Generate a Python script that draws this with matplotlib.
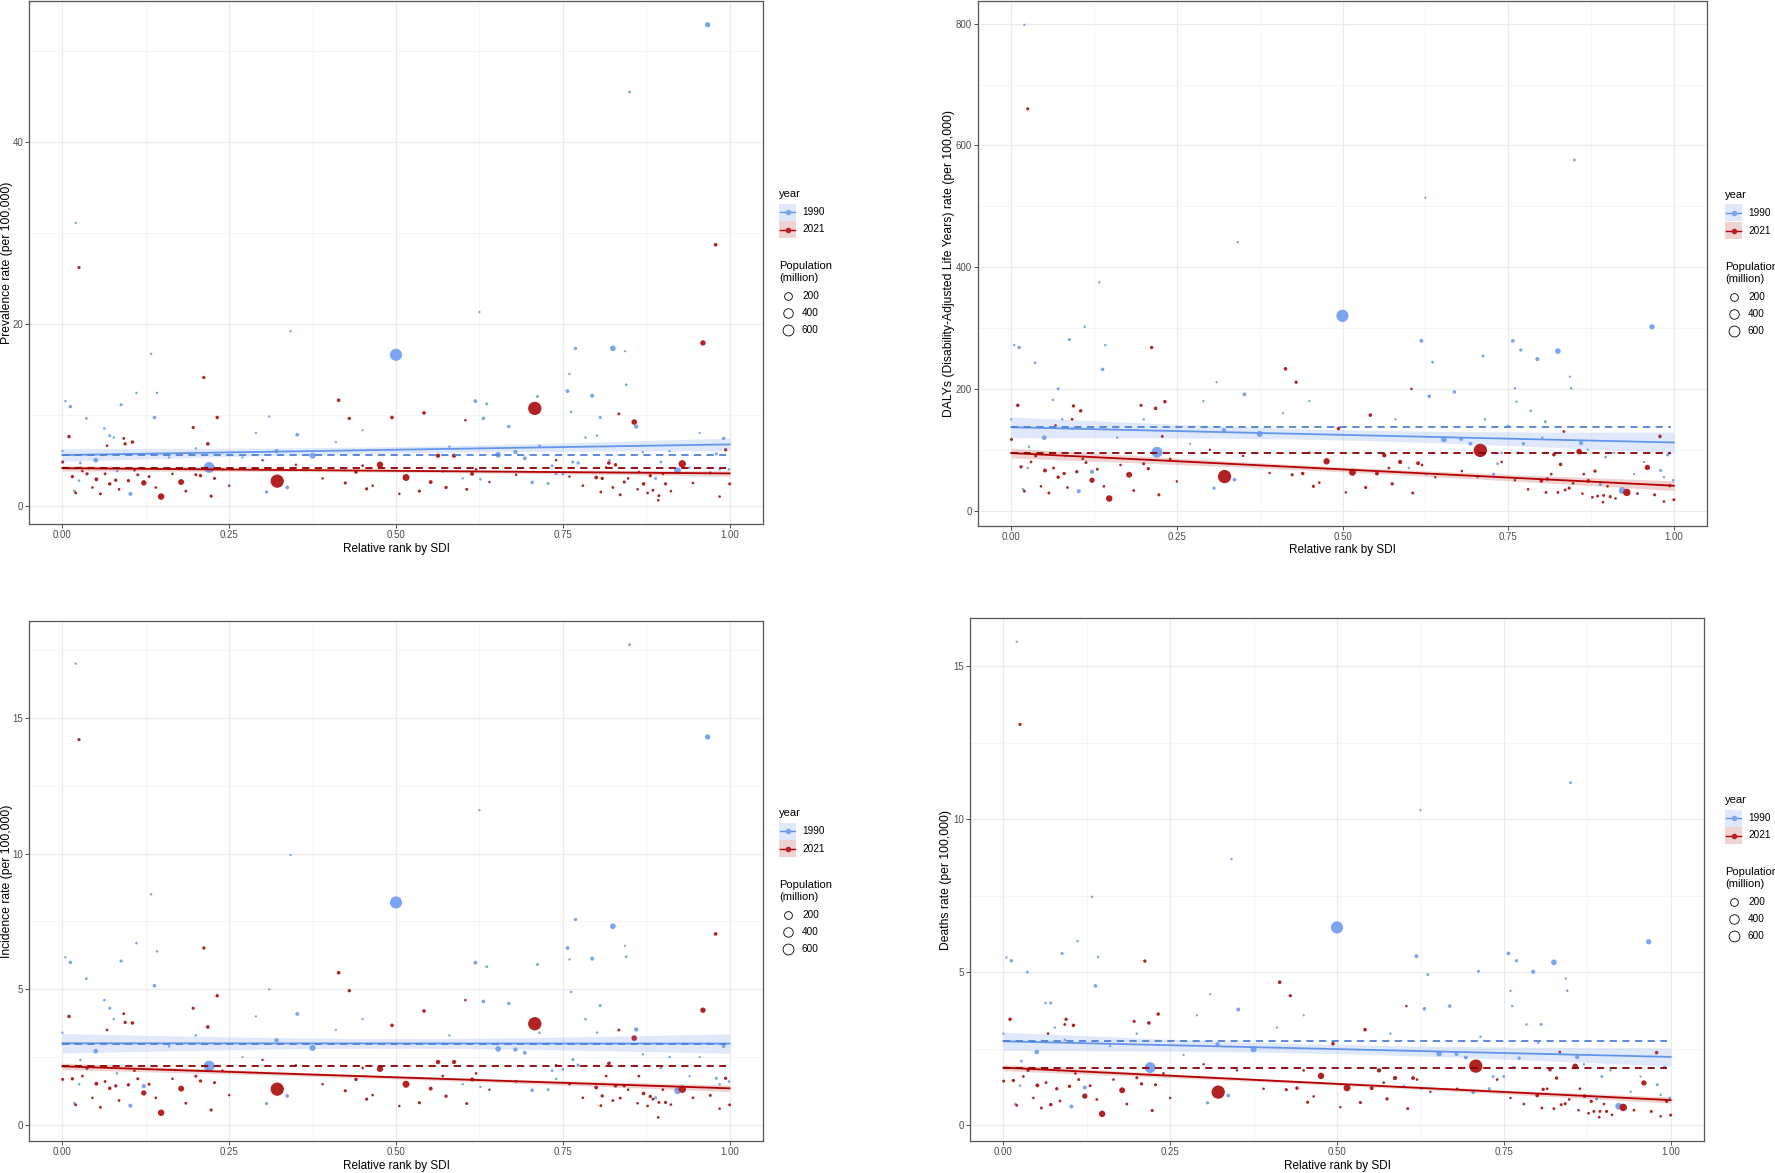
import numpy as np
import matplotlib
matplotlib.use("Agg")
import matplotlib.pyplot as plt
from matplotlib.lines import Line2D
from matplotlib.patches import Rectangle

plt.rcParams["font.family"] = ["Liberation Sans", "DejaVu Sans"]

# ---- 1990: relative SDI rank, population (million), and four rates ----
x_1990 = [0.500, 0.220, 0.922, 0.375, 0.825, 0.653, 0.967, 0.050, 0.321, 0.352,
          0.138, 0.012, 0.102, 0.122, 0.337, 0.306, 0.679, 0.693, 0.704, 0.860,
          0.991, 0.980, 0.794, 0.757, 0.769, 0.619, 0.631, 0.669, 0.636, 0.712,
          0.845, 0.850, 0.020, 0.0045, 0.036, 0.088, 0.111, 0.133, 0.342, 0.625,
          0.889, 0.897, 0.063, 0.071, 0.082, 0.027, 0.018, 0.728, 0.765, 0.773,
          0.806, 0.750, 0.310, 0.142, 0.734, 0.760, 0.7625, 0.784, 0.8015, 0.843,
          0.999, 0.6265, 0.740, 0.715, 0.077, 0.092, 0.025, 0.000, 0.160, 0.200,
          0.270, 0.290, 0.410, 0.450, 0.580, 0.600, 0.820, 0.870, 0.910, 0.940,
          0.955, 0.985]
pop_1990 = [1150, 870, 250, 180, 148, 150, 123, 80, 60, 40,
            30, 25, 45, 50, 35, 20, 57, 40, 30, 60,
            25, 15, 50, 35, 20, 40, 30, 25, 10, 10,
            5, 8, 1, 2, 8, 15, 3, 2, 2, 1,
            15, 10, 4, 12, 5, 6, 8, 12, 15, 20,
            12, 10, 1, 3, 8, 2, 3, 4, 3, 1,
            5, 3, 5, 4, 3, 3, 4, 2, 2, 3,
            1, 1, 1, 1, 2, 2, 4, 2, 3, 2,
            1, 3]
prev_1990 = [16.6, 4.2, 3.85, 5.5, 17.3, 5.6, 52.9, 5.0, 6.0, 7.8,
             9.7, 10.9, 1.3, 2.6, 2.0, 1.5, 5.9, 5.2, 2.56, 8.7,
             7.4, 5.7, 12.1, 12.6, 17.3, 11.5, 9.6, 8.7, 11.2, 12.0,
             13.3, 45.5, 31.1, 11.5, 9.6, 11.1, 12.4, 16.7, 19.2, 21.3,
             3.0, 4.8, 8.5, 7.7, 3.8, 4.7, 1.6, 2.45, 4.8, 4.7,
             9.7, 3.5, 9.8, 12.4, 4.4, 14.5, 10.3, 7.5, 7.7, 17.0,
             4.0, 2.9, 3.5, 6.6, 7.5, 5.7, 2.75, 6.0, 5.3, 6.3,
             5.3, 8.0, 7.0, 8.3, 6.5, 3.0, 5.0, 5.9, 6.0, 4.2,
             8.0, 4.0]
daly_1990 = [320, 96, 33, 126, 262, 117, 302, 120, 132, 191,
             232, 268, 32, 64, 51, 37, 118, 110, 56, 111,
             92, 66, 249, 279, 264, 279, 188, 195, 244, 254,
             201, 576, 798, 272, 243, 281, 302, 375, 441, 514,
             43, 88, 182, 200, 90, 105, 35, 60, 95, 110,
             146, 139, 211, 272, 77, 201, 179, 164, 120, 220,
             50, 60, 95, 150, 150, 135, 70, 150, 120, 150,
             110, 180, 160, 180, 150, 70, 95, 100, 95, 60,
             80, 55]
inc_1990 = [8.2, 2.17, 1.26, 2.84, 7.32, 2.80, 14.3, 2.72, 3.12, 4.09,
            5.13, 5.99, 0.71, 1.43, 1.07, 0.79, 2.78, 2.66, 1.28, 3.52,
            2.90, 1.72, 6.13, 6.52, 7.57, 5.98, 4.55, 4.48, 5.83, 5.91,
            6.2, 17.7, 17.0, 6.18, 5.39, 6.04, 6.7, 8.5, 9.95, 11.6,
            1.0, 2.1, 4.6, 4.3, 1.9, 2.4, 0.8, 1.3, 2.41, 2.2,
            4.4, 2.05, 5.0, 6.4, 2.0, 6.1, 4.9, 3.9, 3.4, 6.6,
            1.6, 1.4, 1.7, 3.4, 3.9, 3.0, 1.5, 3.4, 2.9, 3.3,
            2.5, 4.0, 3.5, 3.9, 3.3, 1.5, 2.3, 2.6, 2.5, 1.8,
            2.5, 1.5]
death_1990 = [6.47, 1.89, 0.63, 2.49, 5.33, 2.35, 6.0, 2.40, 2.65, 3.79,
              4.56, 5.38, 0.62, 1.24, 0.98, 0.74, 2.34, 2.22, 1.08, 2.24,
              1.90, 1.33, 5.02, 5.62, 5.38, 5.53, 3.81, 3.90, 4.93, 5.04,
              4.4, 11.2, 15.8, 5.49, 5.01, 5.62, 6.02, 7.47, 8.7, 10.3,
              0.87, 1.6, 4.0, 4.0, 1.8, 2.1, 0.7, 1.2, 1.9, 2.2,
              3.3, 1.6, 4.29, 5.5, 1.6, 4.4, 3.9, 3.3, 2.7, 4.8,
              0.9, 1.2, 1.5, 2.9, 3.2, 2.8, 1.3, 3.0, 2.6, 3.0,
              2.3, 3.6, 3.2, 3.6, 3.0, 1.3, 1.8, 2.0, 1.8, 1.1,
              1.6, 1.0]

# ---- 2021 ----
x_2021 = [0.708, 0.322, 0.929, 0.148, 0.178, 0.122, 0.515, 0.476, 0.857, 0.960,
          0.979, 0.025, 0.212, 0.414, 0.430, 0.232, 0.218, 0.494, 0.542, 0.010,
          0.094, 0.105, 0.563, 0.587, 0.614, 0.552, 0.535, 0.575, 0.606, 0.424,
          0.440, 0.456, 0.994, 1.000, 0.971, 0.819, 0.800, 0.809, 0.829, 0.842,
          0.836, 0.871, 0.881, 0.885, 0.894, 0.904, 0.893, 0.807, 0.0005, 0.020,
          0.051, 0.057, 0.080, 0.099, 0.037, 0.071, 0.196, 0.200, 0.207, 0.223,
          0.228, 0.015, 0.092, 0.067, 0.113, 0.604, 0.834, 0.864, 0.030, 0.045,
          0.064, 0.085, 0.108, 0.130, 0.140, 0.165, 0.185, 0.240, 0.250, 0.300,
          0.350, 0.390, 0.450, 0.465, 0.505, 0.570, 0.620, 0.640, 0.680, 0.740,
          0.760, 0.780, 0.815, 0.825, 0.848, 0.862, 0.877, 0.900, 0.912, 0.945,
          0.985]
pop_2021 = [1420, 1410, 335, 220, 170, 120, 275, 214, 145, 125,
            30, 15, 20, 30, 20, 25, 30, 30, 30, 25,
            20, 25, 60, 55, 40, 40, 15, 20, 10, 15,
            25, 15, 20, 10, 12, 30, 35, 20, 25, 15,
            10, 30, 20, 10, 10, 15, 5, 8, 12, 8,
            40, 10, 20, 20, 15, 25, 15, 12, 20, 15,
            12, 20, 8, 5, 10, 3, 8, 6, 6, 4,
            8, 6, 5, 10, 6, 4, 8, 5, 3, 2,
            2, 3, 5, 4, 3, 6, 5, 2, 3, 4,
            3, 5, 6, 8, 5, 4, 6, 5, 4, 6,
            4]
prev_2021 = [10.7, 2.7, 4.6, 1.0, 2.6, 2.5, 3.1, 4.5, 9.2, 17.9,
             28.7, 26.2, 14.1, 11.6, 9.6, 9.7, 6.8, 9.7, 10.2, 7.6,
             6.8, 7.0, 5.5, 5.5, 3.5, 2.6, 1.6, 2.0, 1.8, 2.5,
             3.7, 1.85, 6.15, 2.4, 3.6, 4.7, 3.1, 3.0, 4.5, 2.6,
             1.2, 2.4, 3.3, 1.7, 1.1, 2.4, 0.6, 1.5, 4.8, 1.4,
             2.9, 1.3, 2.8, 2.75, 3.5, 2.4, 8.6, 3.4, 3.3, 1.05,
             3.0, 3.2, 7.4, 6.6, 3.4, 9.4, 10.1, 3.7, 3.8, 2.0,
             3.5, 1.8, 3.9, 3.2, 2.0, 3.5, 1.6, 4.0, 2.2, 5.0,
             4.5, 3.0, 4.4, 2.2, 1.3, 3.8, 4.0, 2.6, 3.4, 5.0,
             3.2, 2.2, 4.2, 2.0, 3.0, 1.8, 1.4, 3.5, 1.6, 2.5,
             1.0]
daly_2021 = [99, 56, 30, 20, 59, 50, 63, 81, 97, 71,
             122, 660, 268, 233, 211, 179, 168, 135, 157, 173,
             172, 164, 91, 80, 78, 61, 38, 44, 29, 59,
             61, 40, 41, 18, 26, 92, 49, 52, 76, 37,
             34, 49, 65, 24, 25, 23, 14, 30, 117, 32,
             66, 29, 61, 64, 90, 55, 173, 77, 69, 26,
             122, 72, 150, 140, 79, 200, 130, 60, 80, 40,
             70, 38, 85, 68, 40, 75, 33, 85, 48, 100,
             90, 62, 95, 46, 30, 70, 75, 55, 65, 80,
             50, 35, 60, 30, 45, 28, 22, 40, 20, 28,
             15]
inc_2021 = [3.73, 1.32, 1.32, 0.45, 1.34, 1.18, 1.50, 2.07, 3.20, 4.23,
            7.04, 14.2, 6.52, 5.61, 4.95, 4.76, 3.61, 3.67, 4.20, 4.00,
            3.78, 3.76, 2.32, 2.32, 1.68, 1.34, 0.82, 1.06, 0.79, 1.26,
            1.68, 0.95, 1.72, 0.74, 1.09, 2.26, 1.38, 1.07, 1.44, 1.44,
            0.99, 1.16, 1.05, 0.95, 0.83, 0.83, 0.28, 0.71, 1.68, 0.74,
            1.52, 0.65, 1.44, 1.48, 2.09, 1.35, 4.30, 1.80, 1.62, 0.55,
            1.56, 1.70, 4.1, 3.5, 1.7, 4.6, 3.5, 1.8, 1.8, 1.0,
            1.6, 0.9, 2.0, 1.5, 1.0, 1.7, 0.8, 2.0, 1.1, 2.4,
            2.2, 1.5, 2.1, 1.1, 0.7, 1.8, 1.9, 1.3, 1.6, 2.2,
            1.5, 1.0, 1.8, 0.9, 1.3, 0.8, 0.7, 1.3, 0.75, 1.0,
            0.6]
death_2021 = [1.94, 1.09, 0.59, 0.38, 1.15, 0.96, 1.23, 1.62, 1.93, 1.39,
              2.38, 13.1, 5.37, 4.68, 4.24, 3.64, 3.35, 2.67, 3.13, 3.47,
              3.47, 3.27, 1.80, 1.55, 1.55, 1.22, 0.75, 0.87, 0.55, 1.17,
              1.22, 0.76, 0.79, 0.34, 0.46, 1.83, 0.98, 1.18, 1.55, 0.71,
              0.68, 0.96, 0.79, 0.46, 0.46, 0.46, 0.27, 0.57, 1.45, 0.66,
              1.31, 0.57, 1.20, 1.28, 1.80, 0.68, 3.40, 1.56, 1.36, 0.49,
              1.33, 1.47, 3.3, 3.0, 1.5, 3.9, 2.4, 1.2, 1.6, 0.9,
              1.4, 0.8, 1.7, 1.3, 0.85, 1.5, 0.7, 1.7, 0.9, 2.0,
              1.8, 1.2, 1.8, 0.95, 0.6, 1.4, 1.5, 1.1, 1.2, 1.5,
              0.9, 0.7, 1.2, 0.55, 0.85, 0.5, 0.4, 0.7, 0.35, 0.5,
              0.3]

# ---- fitted lines (value at rank 0 and rank 1), CI half-width at mid, reference levels ----
titles = ["Prevalence rate (per 100,000)",
          "DALYs (Disability-Adjusted Life Years) rate (per 100,000)",
          "Incidence rate (per 100,000)",
          "Deaths rate (per 100,000)"]
fit0_1990 = [5.57, 137, 3.01, 2.75]
fit1_1990 = [6.74, 112, 3.00, 2.24]
fit0_2021 = [4.12, 94.6, 2.16, 1.89]
fit1_2021 = [3.55, 41, 1.35, 0.83]
ci_1990 = [0.35, 8.5, 0.18, 0.15]
ci_2021 = [0.15, 4.0, 0.06, 0.05]
ref_1990 = [5.57, 138, 3.00, 2.75]
ref_2021 = [4.14, 95, 2.17, 1.89]
yticks = [[0, 20, 40], [0, 200, 400, 600, 800], [0, 5, 10, 15], [0, 5, 10, 15]]
legend_pops = [200, 400, 600]

BLUE_PT, RED_PT = "#7BA4F2", "#B22222"
BLUE_LN, RED_LN = "#6495ED", "#B40000"
BLUE_DASH, RED_DASH = "#4F81D6", "#8B0000"

W, H = 1775, 1173
fig = plt.figure(figsize=(W / 100, H / 100), dpi=100)

# panel boxes in pixels: left, top, right, bottom
boxes = [(29, 1, 763, 524), (978, 1, 1707, 526),
         (29, 621, 763, 1141), (970, 618, 1704, 1141)]
ylab_right = [13, 955, 13, 952]
legend_xy = [(779, 194), (1725, 195), (779, 813), (1725, 800)]


def diam(p):
    return 2.0 + 0.3 * np.sqrt(np.asarray(p, float))


def fx(px):
    return px / W


def fy(py):
    return 1 - py / H


ys_1990 = [prev_1990, daly_1990, inc_1990, death_1990]
ys_2021 = [prev_2021, daly_2021, inc_2021, death_2021]
xs = np.linspace(0, 1, 100)

for i in range(4):
    l, t, r, b = boxes[i]
    ax = fig.add_axes([fx(l), fy(b), (r - l) / W, (b - t) / H])

    s90 = (diam(pop_1990) * 0.72) ** 2
    s21 = (diam(pop_2021) * 0.72) ** 2
    ax.scatter(x_1990, ys_1990[i], s=s90, color=BLUE_PT, linewidths=0, zorder=2)
    ax.scatter(x_2021, ys_2021[i], s=s21, color=RED_PT, linewidths=0, zorder=2)

    for f0, f1, ci, ref, ln, dash, band in [
            (fit0_1990[i], fit1_1990[i], ci_1990[i], ref_1990[i], BLUE_LN, BLUE_DASH, BLUE_LN),
            (fit0_2021[i], fit1_2021[i], ci_2021[i], ref_2021[i], RED_LN, RED_DASH, RED_PT)]:
        fit = f0 + (f1 - f0) * xs
        half = ci * np.sqrt(1 + 12 * (xs - 0.5) ** 2)
        ax.fill_between(xs, fit - half, fit + half, color=band, alpha=0.2, lw=0, zorder=3)
        ax.plot(xs, fit, color=ln, lw=1.3, zorder=4)
        ax.plot([0, 0.995], [ref, ref], color=dash, lw=1.3, ls=(0, (4, 3)), zorder=4)

    ax.set_xlim(-0.05, 1.05)
    allv = list(ys_1990[i]) + list(ys_2021[i])
    lo, hi = min(allv), max(allv)
    pad = (hi - lo) * 0.05
    ax.set_xticks([0, 0.25, 0.5, 0.75, 1.0])
    ax.set_xticklabels(["0.00", "0.25", "0.50", "0.75", "1.00"])
    ax.set_xticks([0.125, 0.375, 0.625, 0.875], minor=True)
    yt = yticks[i]
    ax.set_yticks(yt)
    step = yt[1] - yt[0]
    ax.set_yticks([v + step / 2 for v in [yt[0] - step] + yt], minor=True)
    ax.set_ylim(lo - pad, hi + pad)
    ax.grid(which="major", color="#EBEBEB", lw=0.9, zorder=0)
    ax.grid(which="minor", color="#F2F2F2", lw=0.5, zorder=0)
    ax.set_axisbelow(True)
    ax.tick_params(which="major", length=2.75, width=0.6, color="#333333",
                   labelsize=7, labelcolor="#4D4D4D", pad=1.5)
    ax.tick_params(which="minor", length=0)
    for sp in ax.spines.values():
        sp.set_color("#555555")
        sp.set_linewidth(0.9)
    ax.set_xlabel("Relative rank by SDI", fontsize=8.5)
    ax.xaxis.set_label_coords(0.5, -18.5 / (b - t))
    ax.set_ylabel(titles[i], fontsize=8.7)
    ax.yaxis.set_label_coords((ylab_right[i] - l) / (r - l), 0.5)

    # legend
    lx, ty = legend_xy[i]
    fig.text(fx(lx), fy(ty), "year", fontsize=8, va="center", ha="left")
    for j, (lab, pt, ln, band) in enumerate([("1990", BLUE_PT, BLUE_LN, BLUE_LN),
                                            ("2021", RED_PT, RED_LN, RED_PT)]):
        cy = ty + 18 + 17.5 * j
        fig.add_artist(Rectangle((fx(lx), fy(cy + 8.5)), 17 / W, 17 / H,
                                 transform=fig.transFigure, color=band, alpha=0.2, lw=0))
        fig.add_artist(Line2D([fx(lx + 1), fx(lx + 16)], [fy(cy), fy(cy)], color=ln, lw=1.0,
                              transform=fig.transFigure))
        fig.add_artist(Line2D([fx(lx + 8.5)], [fy(cy)], marker="o", ms=3, color=pt, lw=0,
                              transform=fig.transFigure))
        fig.text(fx(lx + 23), fy(cy), lab, fontsize=7.2, va="center", ha="left")
    fig.text(fx(lx), fy(ty + 72), "Population", fontsize=8, va="center", ha="left")
    fig.text(fx(lx), fy(ty + 84), "(million)", fontsize=8, va="center", ha="left")
    for j, p in enumerate(legend_pops):
        cy = ty + 102 + 17 * j
        d = diam(p) + 1.5
        fig.add_artist(Line2D([fx(lx + 8.5)], [fy(cy)], marker="o", ms=d * 0.72,
                              mfc="none", mec="black", mew=0.6, lw=0,
                              transform=fig.transFigure))
        fig.text(fx(lx + 23), fy(cy), str(p), fontsize=7.2, va="center", ha="left")

fig.savefig("out.png", dpi=100)
